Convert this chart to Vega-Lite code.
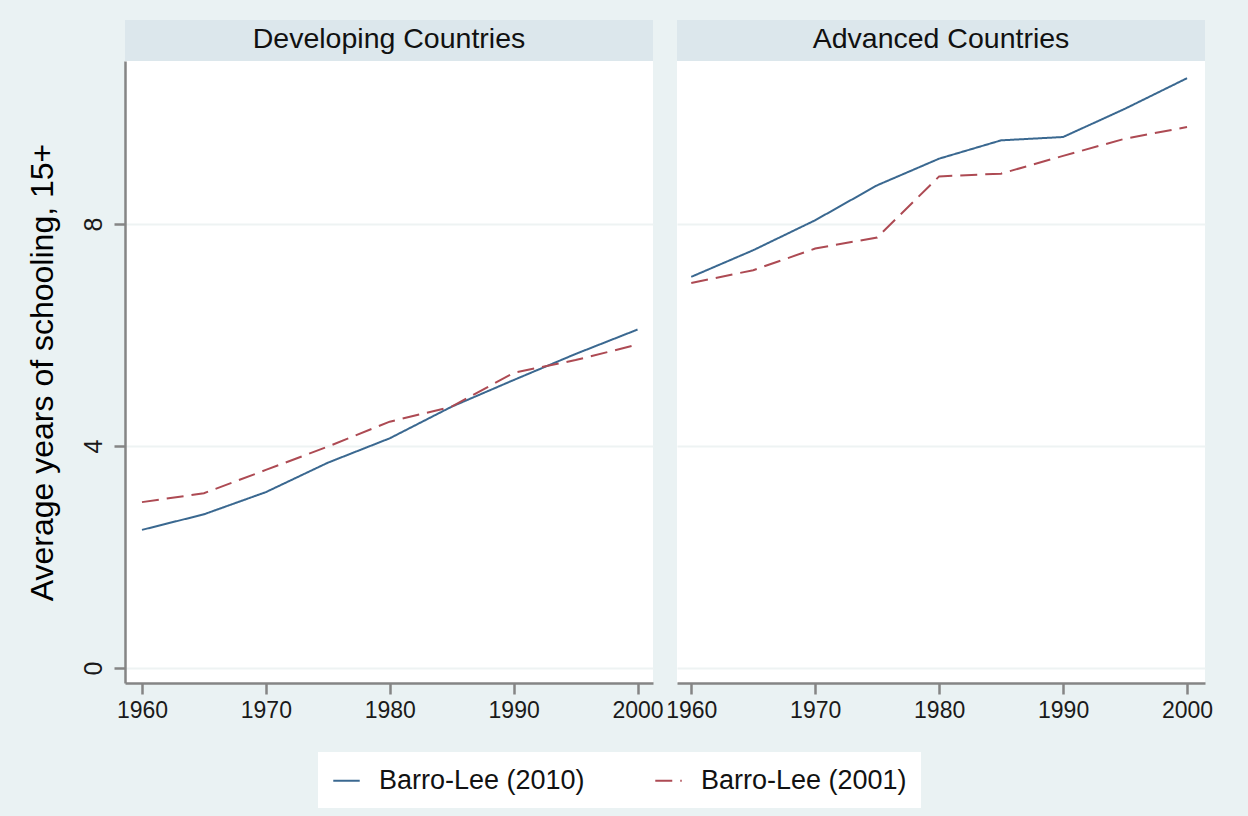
{
  "$schema": "https://vega.github.io/schema/vega-lite/v6.json",
  "background": "#EAF2F3",
  "padding": {"left": 26, "top": 20, "right": 35, "bottom": 10},
  "datasets": {
    "panels": [
      {"group": "Developing", "title": "Developing Countries"},
      {"group": "Advanced", "title": "Advanced Countries"}
    ],
    "schooling": [
      {"group": "Developing", "series": "Barro-Lee (2010)", "year": 1960, "value": 2.49},
      {"group": "Developing", "series": "Barro-Lee (2010)", "year": 1965, "value": 2.77},
      {"group": "Developing", "series": "Barro-Lee (2010)", "year": 1970, "value": 3.17},
      {"group": "Developing", "series": "Barro-Lee (2010)", "year": 1975, "value": 3.70},
      {"group": "Developing", "series": "Barro-Lee (2010)", "year": 1980, "value": 4.14},
      {"group": "Developing", "series": "Barro-Lee (2010)", "year": 1985, "value": 4.71},
      {"group": "Developing", "series": "Barro-Lee (2010)", "year": 1990, "value": 5.19},
      {"group": "Developing", "series": "Barro-Lee (2010)", "year": 1995, "value": 5.66},
      {"group": "Developing", "series": "Barro-Lee (2010)", "year": 2000, "value": 6.10},
      {"group": "Developing", "series": "Barro-Lee (2001)", "year": 1960, "value": 2.99},
      {"group": "Developing", "series": "Barro-Lee (2001)", "year": 1965, "value": 3.15},
      {"group": "Developing", "series": "Barro-Lee (2001)", "year": 1970, "value": 3.57},
      {"group": "Developing", "series": "Barro-Lee (2001)", "year": 1975, "value": 3.99},
      {"group": "Developing", "series": "Barro-Lee (2001)", "year": 1980, "value": 4.44},
      {"group": "Developing", "series": "Barro-Lee (2001)", "year": 1985, "value": 4.71},
      {"group": "Developing", "series": "Barro-Lee (2001)", "year": 1990, "value": 5.32},
      {"group": "Developing", "series": "Barro-Lee (2001)", "year": 1995, "value": 5.55},
      {"group": "Developing", "series": "Barro-Lee (2001)", "year": 2000, "value": 5.83},
      {"group": "Advanced", "series": "Barro-Lee (2010)", "year": 1960, "value": 7.05},
      {"group": "Advanced", "series": "Barro-Lee (2010)", "year": 1965, "value": 7.53},
      {"group": "Advanced", "series": "Barro-Lee (2010)", "year": 1970, "value": 8.07},
      {"group": "Advanced", "series": "Barro-Lee (2010)", "year": 1975, "value": 8.70},
      {"group": "Advanced", "series": "Barro-Lee (2010)", "year": 1980, "value": 9.18},
      {"group": "Advanced", "series": "Barro-Lee (2010)", "year": 1985, "value": 9.51},
      {"group": "Advanced", "series": "Barro-Lee (2010)", "year": 1990, "value": 9.57},
      {"group": "Advanced", "series": "Barro-Lee (2010)", "year": 1995, "value": 10.08},
      {"group": "Advanced", "series": "Barro-Lee (2010)", "year": 2000, "value": 10.63},
      {"group": "Advanced", "series": "Barro-Lee (2001)", "year": 1960, "value": 6.94},
      {"group": "Advanced", "series": "Barro-Lee (2001)", "year": 1965, "value": 7.17},
      {"group": "Advanced", "series": "Barro-Lee (2001)", "year": 1970, "value": 7.56},
      {"group": "Advanced", "series": "Barro-Lee (2001)", "year": 1975, "value": 7.76},
      {"group": "Advanced", "series": "Barro-Lee (2001)", "year": 1980, "value": 8.86},
      {"group": "Advanced", "series": "Barro-Lee (2001)", "year": 1985, "value": 8.91},
      {"group": "Advanced", "series": "Barro-Lee (2001)", "year": 1990, "value": 9.23},
      {"group": "Advanced", "series": "Barro-Lee (2001)", "year": 1995, "value": 9.54},
      {"group": "Advanced", "series": "Barro-Lee (2001)", "year": 2000, "value": 9.75}
    ]
  },
  "bounds": "flush",
  "columns": 2,
  "spacing": {"row": 0, "column": 24},
  "resolve": {"scale": {"color": "shared", "strokeDash": "shared"}},
  "concat": [
    {
      "width": 528,
      "height": 41,
      "view": {"fill": "#DCE7EC", "stroke": null},
      "data": {"name": "panels"},
      "transform": [{"filter": "datum.group === 'Developing'"}],
      "mark": {"type": "text", "fontSize": 28.5, "color": "#111111", "baseline": "middle", "dy": -2},
      "encoding": {"text": {"field": "title"}}
    },
    {
      "width": 528,
      "height": 41,
      "view": {"fill": "#DCE7EC", "stroke": null},
      "data": {"name": "panels"},
      "transform": [{"filter": "datum.group === 'Advanced'"}],
      "mark": {"type": "text", "fontSize": 28.5, "color": "#111111", "baseline": "middle", "dy": -2},
      "encoding": {"text": {"field": "title"}}
    },
    {
      "width": 528,
      "height": 622,
      "view": {"fill": "white", "stroke": null},
      "data": {"name": "schooling"},
      "transform": [{"filter": "datum.group === 'Developing'"}],
      "mark": {"type": "line", "strokeWidth": 2},
      "encoding": {
        "x": {
          "field": "year", "type": "quantitative",
          "scale": {"domain": [1958.63, 2001.25], "nice": false, "zero": false},
          "axis": {"values": [1960, 1970, 1980, 1990, 2000], "format": "d", "title": null, "grid": false,
                   "domainColor": "#858585", "domainWidth": 2.5, "tickColor": "#858585", "tickWidth": 2.5, "tickSize": 11,
                   "labelFontSize": 23, "labelColor": "#1A1A1A", "labelPadding": 5}
        },
        "y": {
          "field": "value", "type": "quantitative",
          "scale": {"domain": [-0.27, 10.94], "nice": false, "zero": false},
          "axis": {"values": [0, 4, 8], "title": "Average years of schooling, 15+", "titleFontSize": 32, "titleFontWeight": "normal",
                   "titleColor": "#000000", "titlePadding": 22,
                   "grid": true, "gridColor": "#EEF3F3", "gridWidth": 2,
                   "domainColor": "#858585", "domainWidth": 2.5, "tickColor": "#858585", "tickWidth": 2.5, "tickSize": 11,
                   "labelFontSize": 25, "labelColor": "#1A1A1A", "labelAngle": -90, "labelAlign": "center", "labelBaseline": "bottom", "labelPadding": 8}
        },
        "color": {
          "field": "series", "type": "nominal",
          "scale": {"domain": ["Barro-Lee (2010)", "Barro-Lee (2001)"], "range": ["#3A6890", "#AD4A53"]},
          "legend": {"title": null}
        },
        "strokeDash": {
          "field": "series", "type": "nominal",
          "scale": {"domain": ["Barro-Lee (2010)", "Barro-Lee (2001)"], "range": [[1, 0], [17, 8]]},
          "legend": {"title": null}
        }
      }
    },
    {
      "width": 528,
      "height": 622,
      "view": {"fill": "white", "stroke": null},
      "data": {"name": "schooling"},
      "transform": [{"filter": "datum.group === 'Advanced'"}],
      "mark": {"type": "line", "strokeWidth": 2},
      "encoding": {
        "x": {
          "field": "year", "type": "quantitative",
          "scale": {"domain": [1958.85, 2001.45], "nice": false, "zero": false},
          "axis": {"values": [1960, 1970, 1980, 1990, 2000], "format": "d", "title": null, "grid": false,
                   "domainColor": "#858585", "domainWidth": 2.5, "tickColor": "#858585", "tickWidth": 2.5, "tickSize": 11,
                   "labelFontSize": 23, "labelColor": "#1A1A1A", "labelPadding": 5}
        },
        "y": {
          "field": "value", "type": "quantitative",
          "scale": {"domain": [-0.27, 10.94], "nice": false, "zero": false},
          "axis": {"values": [0, 4, 8], "title": null, "grid": true, "gridColor": "#EEF3F3", "gridWidth": 2,
                   "domain": false, "ticks": false, "labels": false}
        },
        "color": {
          "field": "series", "type": "nominal",
          "scale": {"domain": ["Barro-Lee (2010)", "Barro-Lee (2001)"], "range": ["#3A6890", "#AD4A53"]},
          "legend": {"title": null}
        },
        "strokeDash": {
          "field": "series", "type": "nominal",
          "scale": {"domain": ["Barro-Lee (2010)", "Barro-Lee (2001)"], "range": [[1, 0], [17, 8]]},
          "legend": {"title": null}
        }
      }
    }
  ],
  "config": {
    "font": "Liberation Sans",
    "legend": {
      "orient": "bottom",
      "direction": "horizontal",
      "fillColor": "white",
      "strokeColor": null,
      "padding": 14,
      "offset": 30,
      "labelFontSize": 27,
      "labelLimit": 0,
      "labelColor": "#111111",
      "labelOffset": 18,
      "symbolType": "stroke",
      "symbolSize": 700,
      "symbolStrokeWidth": 2,
      "columnPadding": 66,
      "layout": {"bottom": {"anchor": "middle"}}
    }
  }
}
